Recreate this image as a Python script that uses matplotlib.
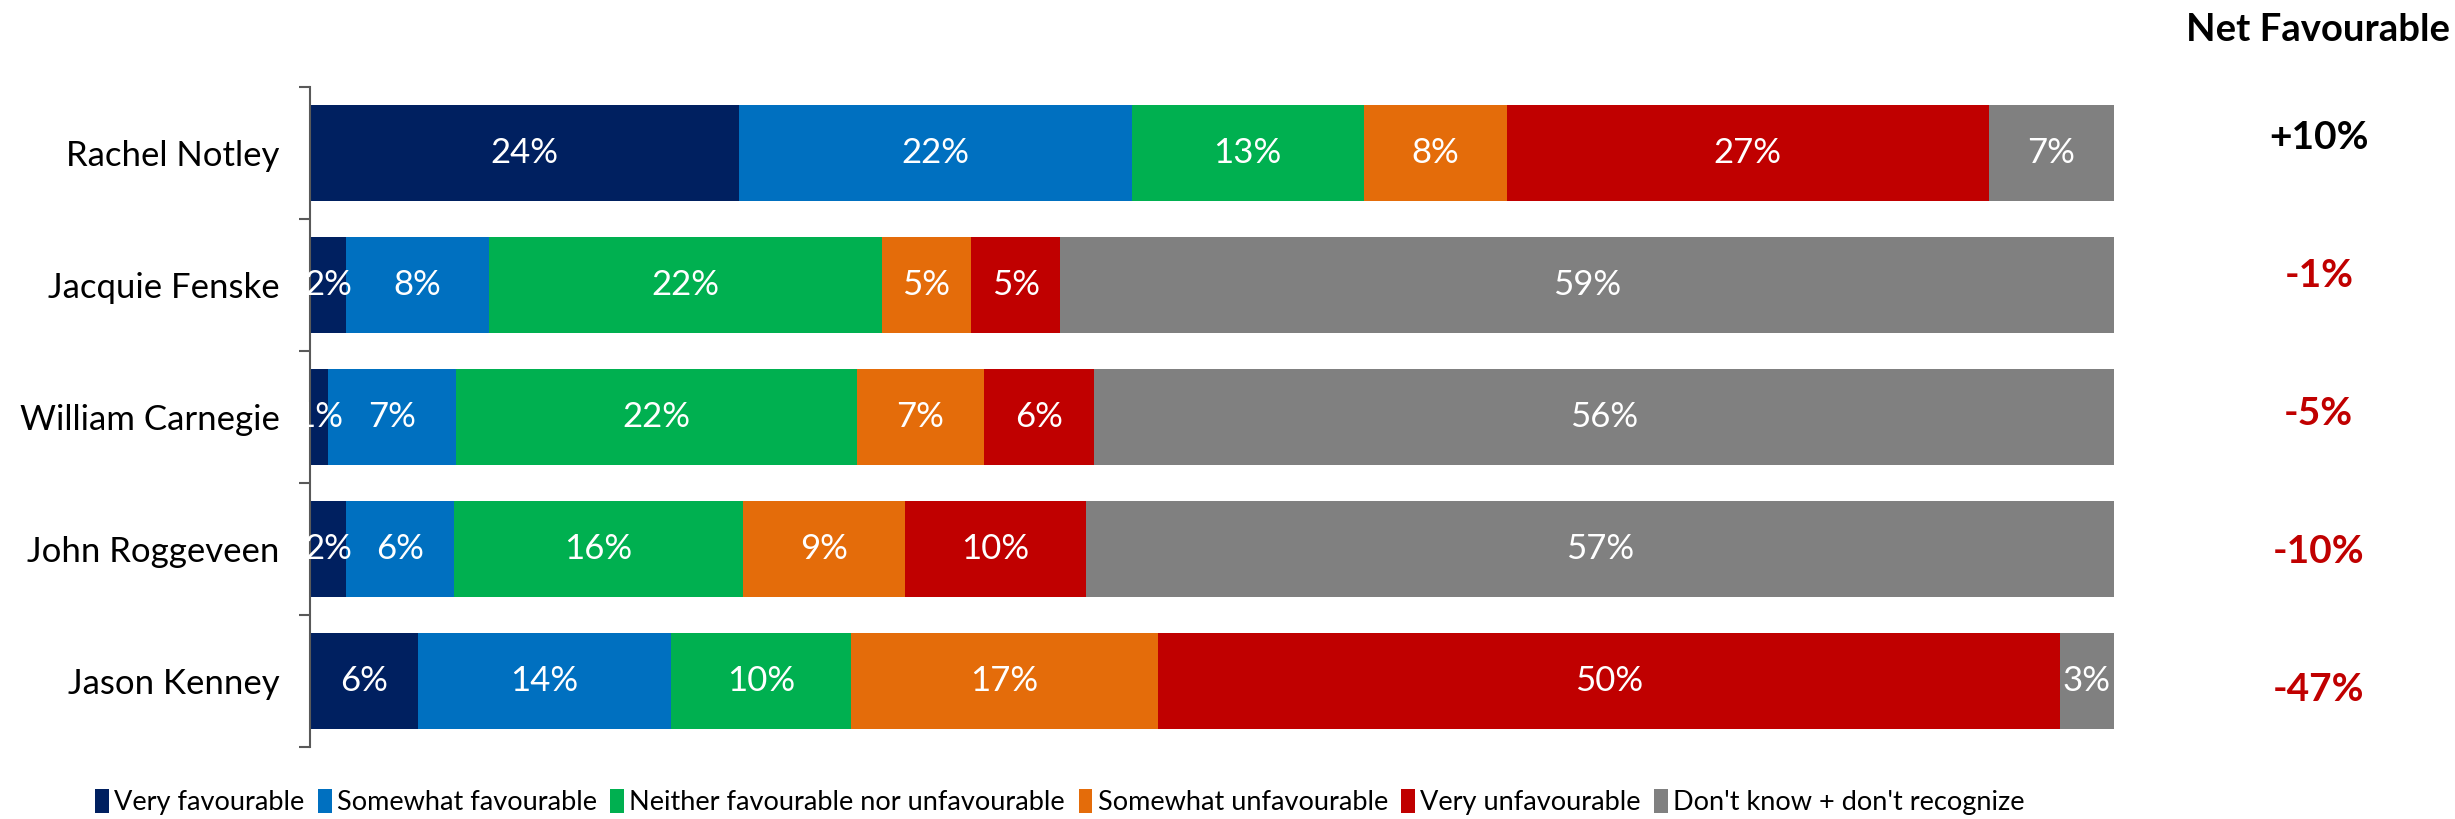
import numpy as np
import matplotlib.pyplot as plt
from matplotlib.patches import Patch

plt.rcParams['font.family'] = ['Lato', 'DejaVu Sans']

# Favourability of Alberta leaders (%)
leaders = ['Rachel Notley', 'Jacquie Fenske', 'William Carnegie', 'John Roggeveen', 'Jason Kenney']
categories = ['Very favourable', 'Somewhat favourable', 'Neither favourable nor unfavourable',
              'Somewhat unfavourable', 'Very unfavourable', "Don't know + don't recognize"]
very_fav = [24, 2, 1, 2, 6]
somewhat_fav = [22, 8, 7, 6, 14]
neither = [13, 22, 22, 16, 10]
somewhat_unfav = [8, 5, 7, 9, 17]
very_unfav = [27, 5, 6, 10, 50]
dont_know = [7, 59, 56, 57, 3]
net_fav = ['+10%', '-1%', '-5%', '-10%', '-47%']

colors = ['#002060', '#0070C0', '#00B050', '#E46C0A', '#C00000', '#808080']

data = np.array([very_fav, somewhat_fav, neither, somewhat_unfav, very_unfav, dont_know], dtype=float)
shares = data / data.sum(axis=0)  # 100% stacked

fig = plt.figure(figsize=(24.55, 8.19), dpi=100)
ax = fig.add_axes([310 / 2455, 1 - 747 / 819, (2114 - 310) / 2455, (747 - 87) / 819])

y = np.arange(len(leaders))
left = np.zeros(len(leaders))
for i, cat in enumerate(categories):
    ax.barh(y, shares[i], left=left, height=0.73, color=colors[i], label=cat)
    for j in range(len(leaders)):
        ax.text(left[j] + shares[i][j] / 2, y[j], f'{int(data[i][j])}%',
                ha='center', va='center', color='white', fontsize=25)
    left += shares[i]

ax.set_xlim(0, 1)
ax.set_ylim(len(leaders) - 0.5, -0.5)
ax.set_xticks([])
ax.set_yticks(y)
ax.set_yticklabels(leaders, fontsize=25)
ax.set_yticks(np.arange(-0.5, len(leaders)), minor=True)
ax.tick_params(axis='y', which='major', length=0, pad=22)
ax.tick_params(axis='y', which='minor', length=8, width=1.5, color='#595959', direction='out')
for s in ['top', 'right', 'bottom']:
    ax.spines[s].set_visible(False)
ax.spines['left'].set_color('#595959')
ax.spines['left'].set_linewidth(1.5)

# net favourable column, its own text boxes spaced slightly wider than the rows
fig.text(2318 / 2455, 1 - 30 / 819, 'Net Favourable', ha='center', va='center',
         fontsize=27.5, fontweight='bold')
for j, val in enumerate(net_fav):
    ax.text(1.1135, 1.044 * y[j] - 0.114, val, ha='center', va='center', fontsize=28, fontweight='bold',
            color='black' if val.startswith('+') else '#C00000', transform=ax.get_yaxis_transform())

handles = [Patch(facecolor=c, label=l) for c, l in zip(colors, categories)]
fig.legend(handles=handles, loc='center', bbox_to_anchor=(1060 / 2455, 1 - 802 / 819), ncol=6,
           frameon=False, fontsize=19.5, handlelength=0.5, handleheight=1.0, handletextpad=0.2,
           columnspacing=0.5)

fig.savefig('out.png', dpi=100)
